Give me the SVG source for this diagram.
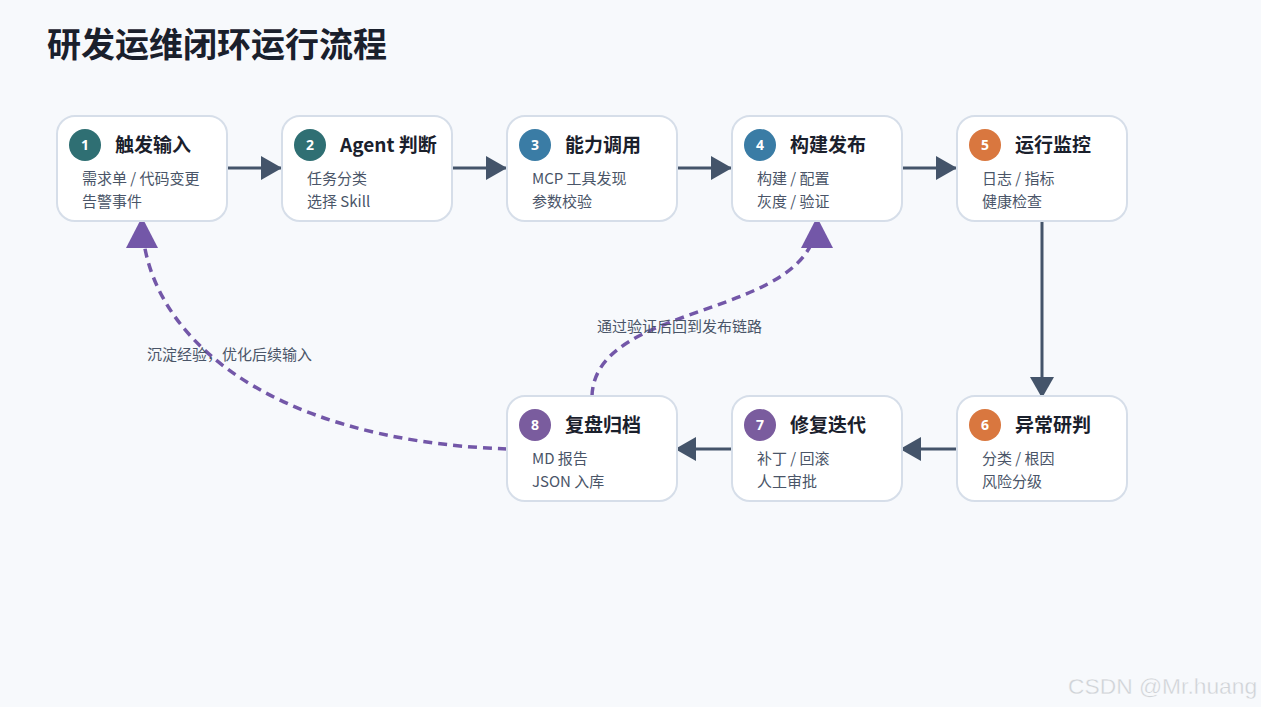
<svg xmlns="http://www.w3.org/2000/svg" width="1261" height="707" viewBox="0 0 1261 707">
<style>
.bg{fill:#f7f9fc}
.box{fill:#fff;stroke:#d6dee9;stroke-width:2}
.t{font-family:"Noto Sans CJK SC","Noto Sans",sans-serif;font-size:19px;font-weight:700;fill:#1a202c}
.s{font-family:"Noto Sans CJK SC","Noto Sans",sans-serif;font-size:15px;fill:#4a5568}
.n{font-family:"Noto Sans","Noto Sans CJK SC",sans-serif;font-size:14px;font-weight:700;fill:#fff;text-anchor:middle}
.lbl{font-family:"Noto Sans CJK SC","Noto Sans",sans-serif;font-size:15px;fill:#4a5568}
.e{fill:none;stroke:#44546a;stroke-width:3}
.d{fill:none;stroke:#7357a8;stroke-width:3.5;stroke-dasharray:9 6}
.c1{fill:#2f6f73}.c3{fill:#3a7ca5}.c5{fill:#d9773f}.c7{fill:#7a5c9e}
</style>
<defs>
<marker id="ah" markerUnits="userSpaceOnUse" markerWidth="22" markerHeight="26" refX="21" refY="12" orient="auto"><path d="M0,0 L21,12 L0,24 Z" fill="#44546a"/></marker>
<marker id="ap" markerUnits="userSpaceOnUse" markerWidth="32" markerHeight="34" refX="30" refY="16" orient="auto"><path d="M0,0 L31,16 L0,32 Z" fill="#7357a8"/></marker>
</defs>
<rect class="bg" x="0" y="0" width="1261" height="707"/>
<text x="47" y="57" font-family="'Noto Sans CJK SC','Noto Sans',sans-serif" font-size="34" font-weight="700" fill="#1a202c">研发运维闭环运行流程</text>
<g id="connectors">
<path class="e" d="M227,168 L282,168" marker-end="url(#ah)"/>
<path class="e" d="M452,168 L507,168" marker-end="url(#ah)"/>
<path class="e" d="M677,168 L732,168" marker-end="url(#ah)"/>
<path class="e" d="M902,168 L957,168" marker-end="url(#ah)"/>
<path class="e" d="M1042,221 L1042,398" marker-end="url(#ah)"/>
<path class="e" d="M957,449 L900,449" marker-end="url(#ah)"/>
<path class="e" d="M732,449 L675,449" marker-end="url(#ah)"/>
<path class="d" d="M507,449 C260,440 142,330 142,218" marker-end="url(#ap)"/>
<path class="d" d="M592,396 C595,300 817,320 817,218" marker-end="url(#ap)"/>
<text class="lbl" x="147" y="360">沉淀经验，优化后续输入</text>
<text class="lbl" x="597" y="332">通过验证后回到发布链路</text>
</g>
<g id="node1"><rect class="box" x="57" y="116" width="170" height="105" rx="18"/><circle class="c1" cx="85" cy="145" r="16"/><text class="n" x="85" y="150">1</text><text class="t" x="115" y="152">触发输入</text><text class="s" x="82" y="184">需求单 / 代码变更</text><text class="s" x="82" y="207">告警事件</text></g>
<g id="node2"><rect class="box" x="282" y="116" width="170" height="105" rx="18"/><circle class="c1" cx="310" cy="145" r="16"/><text class="n" x="310" y="150">2</text><text class="t" x="340" y="152">Agent 判断</text><text class="s" x="307" y="184">任务分类</text><text class="s" x="307" y="207">选择 Skill</text></g>
<g id="node3"><rect class="box" x="507" y="116" width="170" height="105" rx="18"/><circle class="c3" cx="535" cy="145" r="16"/><text class="n" x="535" y="150">3</text><text class="t" x="565" y="152">能力调用</text><text class="s" x="532" y="184">MCP 工具发现</text><text class="s" x="532" y="207">参数校验</text></g>
<g id="node4"><rect class="box" x="732" y="116" width="170" height="105" rx="18"/><circle class="c3" cx="760" cy="145" r="16"/><text class="n" x="760" y="150">4</text><text class="t" x="790" y="152">构建发布</text><text class="s" x="757" y="184">构建 / 配置</text><text class="s" x="757" y="207">灰度 / 验证</text></g>
<g id="node5"><rect class="box" x="957" y="116" width="170" height="105" rx="18"/><circle class="c5" cx="985" cy="145" r="16"/><text class="n" x="985" y="150">5</text><text class="t" x="1015" y="152">运行监控</text><text class="s" x="982" y="184">日志 / 指标</text><text class="s" x="982" y="207">健康检查</text></g>
<g id="node6"><rect class="box" x="957" y="396" width="170" height="105" rx="18"/><circle class="c5" cx="985" cy="425" r="16"/><text class="n" x="985" y="430">6</text><text class="t" x="1015" y="432">异常研判</text><text class="s" x="982" y="464">分类 / 根因</text><text class="s" x="982" y="487">风险分级</text></g>
<g id="node7"><rect class="box" x="732" y="396" width="170" height="105" rx="18"/><circle class="c7" cx="760" cy="425" r="16"/><text class="n" x="760" y="430">7</text><text class="t" x="790" y="432">修复迭代</text><text class="s" x="757" y="464">补丁 / 回滚</text><text class="s" x="757" y="487">人工审批</text></g>
<g id="node8"><rect class="box" x="507" y="396" width="170" height="105" rx="18"/><circle class="c7" cx="535" cy="425" r="16"/><text class="n" x="535" y="430">8</text><text class="t" x="565" y="432">复盘归档</text><text class="s" x="532" y="464">MD 报告</text><text class="s" x="532" y="487">JSON 入库</text></g>
<text x="1068" y="694" font-family="'Liberation Sans',sans-serif" font-size="22.8" fill="#cfd3d8" stroke="#ffffff" stroke-width="0.3">CSDN @Mr.huang</text>
</svg>
